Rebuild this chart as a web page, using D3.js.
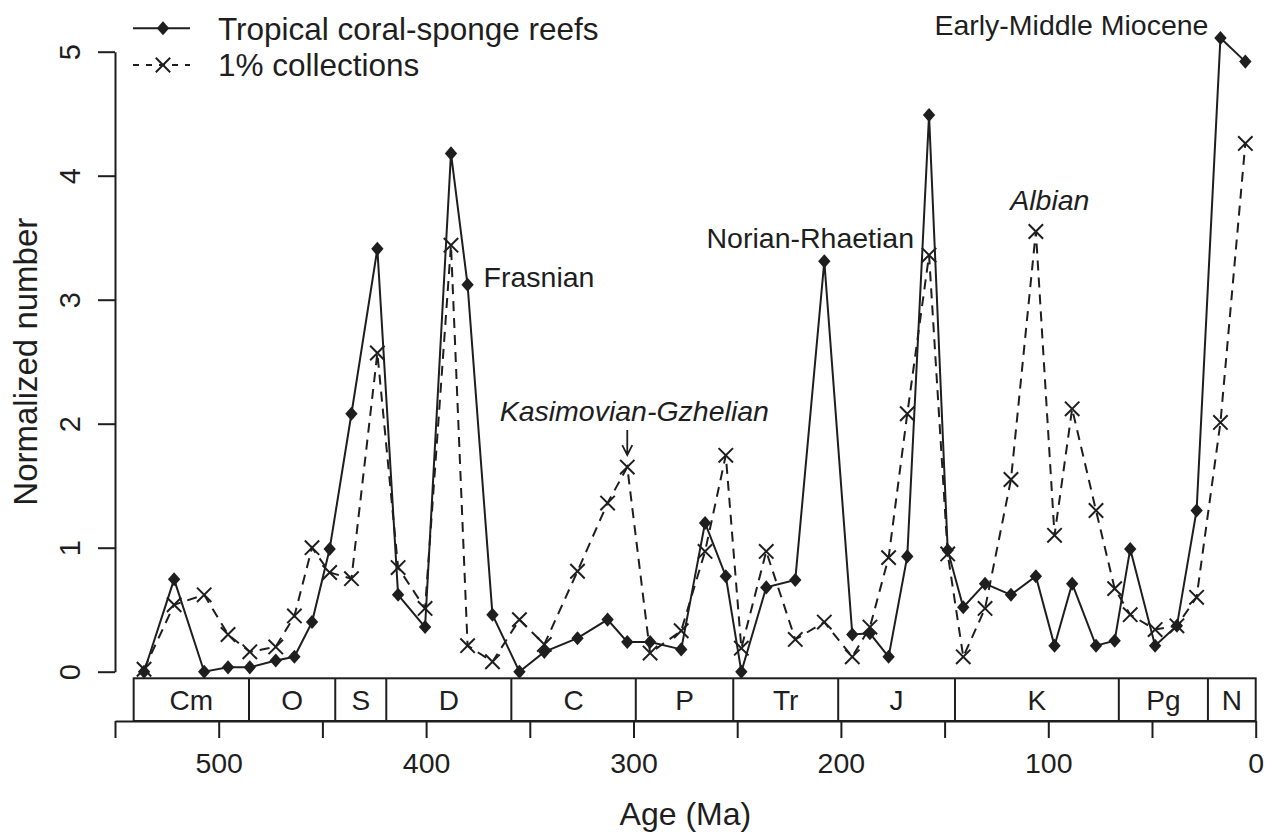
<!DOCTYPE html>
<html>
<head>
<meta charset="utf-8">
<script src="https://cdn.jsdelivr.net/npm/d3@7"></script>
<style>
  html, body { margin: 0; padding: 0; background: #fff; }
  svg { display: block; font-family: "Liberation Sans", Arial, Helvetica, sans-serif; }
</style>
</head>
<body>
<svg id="chart" width="1274" height="832"></svg>
<script>
// ---- data ----
const ages = [536, 521.5, 507, 495.5, 485, 472.5, 463.5, 455, 446.5, 436,
  423.5, 413.5, 400.5, 388, 380, 368, 355, 343, 327, 312.5,
  303, 292, 277, 265.5, 255.5, 248, 236, 222, 208, 194.5,
  186, 177, 168, 157.5, 148.5, 141, 130.5, 118, 106, 97,
  88.5, 77, 68, 60.5, 48.5, 38, 28.5, 17, 5];
const reefs = [0.0, 0.745, 0.0, 0.035, 0.035, 0.09, 0.12, 0.40, 0.99, 2.08,
  3.41, 0.62, 0.36, 4.18, 3.12, 0.46, 0.0, 0.16, 0.27, 0.42,
  0.24, 0.24, 0.18, 1.20, 0.77, 0.0, 0.68, 0.74, 3.31, 0.30,
  0.31, 0.12, 0.93, 4.49, 0.98, 0.52, 0.71, 0.62, 0.77, 0.21,
  0.71, 0.21, 0.25, 0.99, 0.21, 0.37, 1.30, 5.11, 4.92];
const collections = [0.02, 0.54, 0.62, 0.30, 0.16, 0.20, 0.45, 1.00, 0.80, 0.75,
  2.57, 0.84, 0.51, 3.44, 0.21, 0.08, 0.42, 0.22, 0.81, 1.36,
  1.65, 0.15, 0.33, 0.97, 1.745, 0.19, 0.97, 0.26, 0.40, 0.12,
  0.36, 0.92, 2.08, 3.36, 0.95, 0.12, 0.51, 1.55, 3.55, 1.10,
  2.12, 1.30, 0.67, 0.46, 0.34, 0.37, 0.60, 2.01, 4.26];
const periodNames = ["Cm", "O", "S", "D", "C", "P", "Tr", "J", "K", "Pg", "N"];
const periodStarts = [541, 485.4, 443.8, 419.2, 358.9, 298.9, 251.9, 201.3, 145, 66, 23.03];
const periodEnds   = [485.4, 443.8, 419.2, 358.9, 298.9, 251.9, 201.3, 145, 66, 23.03, 0];
const xTicks = [550, 500, 450, 400, 350, 300, 250, 200, 150, 100, 50, 0];
const xLabelTicks = [500, 400, 300, 200, 100, 0];
const yTicks = [0, 1, 2, 3, 4, 5];
const seriesNames = ["Tropical coral-sponge reefs", "1% collections"];

// ---- setup ----
const ink = "#1e1e1e";
const svg = d3.select("#chart");
const x = d3.scaleLinear().domain([550, 0]).range([115, 1255.7]);
const y = d3.scaleLinear().domain([0, 5]).range([671.7, 51.7]);
const boxTop = 678.3, boxBottom = 721;

// diamond & cross symbol types
const diamond = { draw(ctx, size) { const h = Math.sqrt(size) * 0.72, w = h * 0.88;
  ctx.moveTo(0, -h); ctx.lineTo(w, 0); ctx.lineTo(0, h); ctx.lineTo(-w, 0); ctx.closePath(); } };
const cross = { draw(ctx, size) { const r = Math.sqrt(size) * 0.72;
  ctx.moveTo(-r, -r); ctx.lineTo(r, r); ctx.moveTo(r, -r); ctx.lineTo(-r, r); } };
const diamondPath = d3.symbol().type(diamond).size(95)();
const crossPath = d3.symbol().type(cross).size(100)();

// ---- period box ----
const pg = svg.append("g");
pg.append("rect")
  .attr("x", x(periodStarts[0])).attr("y", boxTop)
  .attr("width", x(0) - x(periodStarts[0])).attr("height", boxBottom - boxTop)
  .attr("fill", "none").attr("stroke", ink).attr("stroke-width", 2);
pg.selectAll("line.bnd").data(periodEnds.slice(0, -1)).enter().append("line")
  .attr("x1", d => x(d)).attr("x2", d => x(d))
  .attr("y1", boxTop).attr("y2", boxBottom)
  .attr("stroke", ink).attr("stroke-width", 2);
pg.selectAll("text").data(periodNames).enter().append("text")
  .attr("x", (d, i) => (x(periodStarts[i]) + x(periodEnds[i])) / 2)
  .attr("y", (boxTop + boxBottom) / 2 + 10)
  .attr("text-anchor", "middle").attr("font-size", 28).attr("fill", ink)
  .text(d => d);

// ---- axes ----
const xAxis = d3.axisBottom(x).tickValues(xTicks).tickSize(17).tickSizeOuter(0)
  .tickFormat(d => xLabelTicks.includes(d) ? String(d) : "");
const gx = svg.append("g").attr("transform", `translate(0,${boxBottom})`).call(xAxis);
gx.select(".domain").attr("stroke", ink).attr("stroke-width", 2);
gx.selectAll(".tick line").attr("stroke", ink).attr("stroke-width", 2);
gx.selectAll(".tick text").attr("y", 52).attr("dy", null)
  .attr("font-size", 28.5).attr("fill", ink).attr("font-family", null);

const yAxis = d3.axisLeft(y).tickValues(yTicks).tickSize(17).tickSizeOuter(0).tickFormat(d3.format("d"));
const gy = svg.append("g").attr("transform", `translate(${x(550)},0)`).call(yAxis);
gy.select(".domain").attr("stroke", ink).attr("stroke-width", 2);
gy.selectAll(".tick line").attr("stroke", ink).attr("stroke-width", 2);
gy.selectAll(".tick text")
  .attr("transform", "rotate(-90)").attr("x", 0).attr("y", -35).attr("dy", null)
  .attr("text-anchor", "middle").attr("font-size", 29).attr("fill", ink).attr("font-family", null);

// axis titles
svg.append("text").attr("x", (x(550) + x(0)) / 2).attr("y", 825)
  .attr("text-anchor", "middle").attr("font-size", 32).attr("fill", ink).text("Age (Ma)");
svg.append("text").attr("transform", `translate(37,${(y(0) + y(5)) / 2}) rotate(-90)`)
  .attr("text-anchor", "middle").attr("font-size", 33).attr("fill", ink).text("Normalized number");

// ---- series ----
const line = d3.line().x(d => x(d[0])).y(d => y(d[1]));
const reefPts = ages.map((a, i) => [a, reefs[i]]);
const collPts = ages.map((a, i) => [a, collections[i]]);

svg.append("path").datum(collPts).attr("d", line)
  .attr("fill", "none").attr("stroke", ink).attr("stroke-width", 2)
  .attr("stroke-dasharray", "10,7");
svg.append("path").datum(reefPts).attr("d", line)
  .attr("fill", "none").attr("stroke", ink).attr("stroke-width", 2);

svg.selectAll("path.cross").data(collPts).enter().append("path")
  .attr("class", "cross").attr("d", crossPath)
  .attr("transform", d => `translate(${x(d[0])},${y(d[1])})`)
  .attr("fill", "none").attr("stroke", ink).attr("stroke-width", 2);
svg.selectAll("path.dia").data(reefPts).enter().append("path")
  .attr("class", "dia").attr("d", diamondPath)
  .attr("transform", d => `translate(${x(d[0])},${y(d[1])})`)
  .attr("fill", ink);

// ---- annotations ----
const ann = svg.append("g").attr("font-size", 28.5).attr("fill", ink);
ann.append("text").attr("x", x(ages[14]) + 16).attr("y", y(reefs[14]) + 2).text("Frasnian");
ann.append("text").attr("x", x(ages[28]) - 14).attr("y", y(reefs[28]) - 13)
  .attr("text-anchor", "middle").text("Norian-Rhaetian");
ann.append("text").attr("x", x(ages[20]) + 7).attr("y", y(collections[20]) - 46)
  .attr("text-anchor", "middle").attr("font-style", "italic").text("Kasimovian-Gzhelian");
ann.append("text").attr("x", x(ages[38]) + 14).attr("y", y(collections[38]) - 22)
  .attr("text-anchor", "middle").attr("font-style", "italic").text("Albian");
ann.append("text").attr("x", x(ages[47]) - 12).attr("y", y(reefs[47]) - 3)
  .attr("text-anchor", "end").text("Early-Middle Miocene");

// arrow to Kasimovian-Gzhelian point
const ax = x(ages[20]), ay1 = y(collections[20]) - 37, ay2 = y(collections[20]) - 12;
svg.append("path")
  .attr("d", `M${ax},${ay1}L${ax},${ay2}M${ax - 5},${ay2 - 10}L${ax},${ay2}L${ax + 5},${ay2 - 10}`)
  .attr("fill", "none").attr("stroke", ink).attr("stroke-width", 1.8);

// ---- legend ----
const lg = svg.append("g");
const legY = [28.3, 65];
const legX1 = 133, legX2 = 190, legM = 163;
lg.append("line").attr("x1", legX1).attr("x2", legX2).attr("y1", legY[0]).attr("y2", legY[0])
  .attr("stroke", ink).attr("stroke-width", 2);
lg.append("path").attr("d", diamondPath).attr("transform", `translate(${legM},${legY[0]})`).attr("fill", ink);
lg.append("line").attr("x1", legX1).attr("x2", legX2).attr("y1", legY[1]).attr("y2", legY[1])
  .attr("stroke", ink).attr("stroke-width", 2).attr("stroke-dasharray", "6,7");
lg.append("path").attr("d", crossPath).attr("transform", `translate(${legM},${legY[1]})`)
  .attr("fill", "none").attr("stroke", ink).attr("stroke-width", 2);
lg.selectAll("text").data(seriesNames).enter().append("text")
  .attr("x", 218).attr("y", (d, i) => legY[i] + 11.3)
  .attr("font-size", 31.5).attr("fill", ink).text(d => d);
</script>
</body>
</html>
